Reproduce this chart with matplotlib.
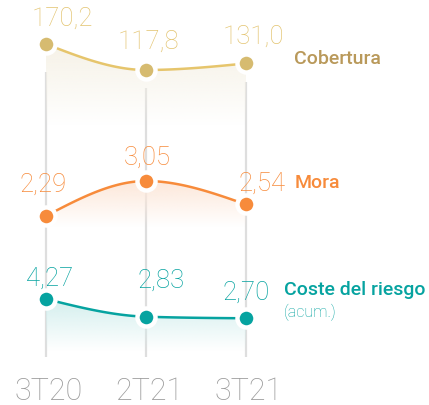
import matplotlib.pyplot as plt
import numpy as np
from matplotlib.colors import to_rgb

periodos = ['3T20', '2T21', '3T21']
cobertura = [170.2, 117.8, 131.0]
mora = [2.29, 3.05, 2.54]
coste = [4.27, 2.83, 2.70]

W, H = 429, 406
plt.rcParams['font.family'] = ['Roboto', 'DejaVu Sans']


def monotone_x(x, y, n=60):
    # curva monotona tipo d3.curveMonotoneX
    x = np.asarray(x, float)
    y = np.asarray(y, float)
    h = np.diff(x)
    s = np.diff(y) / h
    m = np.zeros(len(x))
    for k in range(1, len(x) - 1):
        p = (s[k - 1] * h[k] + s[k] * h[k - 1]) / (h[k - 1] + h[k])
        m[k] = (np.sign(s[k - 1]) + np.sign(s[k])) * min(abs(s[k - 1]), abs(s[k]), 0.5 * abs(p))
    m[0] = (3 * s[0] - m[1]) / 2
    m[-1] = (3 * s[-1] - m[-2]) / 2
    xs, ys = [], []
    for k in range(len(x) - 1):
        t = np.linspace(0, 1, n)
        h00 = 2 * t**3 - 3 * t**2 + 1
        h10 = t**3 - 2 * t**2 + t
        h01 = -2 * t**3 + 3 * t**2
        h11 = t**3 - t**2
        xs.append(x[k] + t * h[k])
        ys.append(h00 * y[k] + h10 * h[k] * m[k] + h01 * y[k + 1] + h11 * h[k] * m[k + 1])
    return np.concatenate(xs), np.concatenate(ys)


fig = plt.figure(figsize=(W / 100, H / 100), dpi=100)
fig.patch.set_facecolor('white')

xlim = (-0.46, 3.83)

# lineas verticales de fondo (en pixeles)
bg = fig.add_axes([0, 0, 1, 1])
bg.set_xlim(xlim)
bg.set_ylim(H, 0)
bg.axis('off')
grid_top = [73, 89, 83]
for i, top in enumerate(grid_top):
    bg.vlines(i, top, 358, color='#dedede', lw=1.6, zorder=0)

series = [
    dict(vals=cobertura, ylim=(-557.6, 260.9), base=5,
         line='#e6c56c', dot='#d6bb70', txt='#e3c470', fill='#f6f2e7',
         offs=[(16, 26), (2, 29), (7, 28)]),
    dict(vals=mora, ylim=(-1.82, 7.007), base=2.05,
         line='#f78b3b', dot='#f78b3b', txt='#f78b3b', fill='#fde8da',
         offs=[(-3, 32), (1, 24), (16, 22)]),
    dict(vals=coste, ylim=(-4.35, 28.66), base=0.05,
         line='#06a3a0', dot='#06a3a0', txt='#06a3a0', fill='#d4efee',
         offs=[(4, 21), (15, 37), (0, 27)]),
]

x = np.arange(len(periodos))
for sr in series:
    ax = fig.add_axes([0, 0, 1, 1])
    ax.set_xlim(xlim)
    ax.set_ylim(sr['ylim'])
    ax.axis('off')
    ax.patch.set_alpha(0)
    vals = sr['vals']
    cx, cy = monotone_x(x, vals)

    # relleno con degradado
    poly = ax.fill_between(cx, cy, sr['base'], color='none', lw=0)
    rgb = to_rgb(sr['fill'])
    grad = np.zeros((100, 1, 4))
    grad[:, 0, :3] = rgb
    grad[:, 0, 3] = np.linspace(1, 0.0, 100)
    img = ax.imshow(grad, aspect='auto', origin='upper', zorder=1)
    img.set_extent((x[0], x[-1], sr['base'], max(vals)))
    img.set_clip_path(poly.get_paths()[0], transform=ax.transData)

    ax.plot(cx, cy, color=sr['line'], lw=1.8, zorder=2, solid_capstyle='round')
    ax.plot(x, vals, 'o', ms=13, mfc=sr['dot'], mec='white', mew=3.2, zorder=3)

    for xi, v, (dx, dy) in zip(x, vals, sr['offs']):
        txt = f'{v:.2f}' if v < 10 else f'{v:.1f}'
        ax.annotate(txt.replace('.', ','), (xi, v), xytext=(dx, dy),
                    textcoords='offset pixels', ha='center', va='center',
                    fontsize=18.5, color=sr['txt'], fontweight='light', zorder=4)

# nombres de las series
fig.text(294 / W, 1 - 59 / H, 'Cobertura', fontsize=14, fontweight='medium',
         color='#b9995a', va='center', ha='left')
fig.text(295 / W, 1 - 183 / H, 'Mora', fontsize=14, fontweight='medium',
         color='#f78b3b', va='center', ha='left')
fig.text(284 / W, 1 - 290 / H, 'Coste del riesgo', fontsize=14, fontweight='medium',
         color='#06a3a0', va='center', ha='left')
fig.text(284 / W, 1 - 312 / H, '(acum.)', fontsize=11.5, fontweight='light',
         color='#06a3a0', va='center', ha='left')

# etiquetas del eje x
for xi, lab in zip(x, periodos):
    bg.text(xi + 0.03, 392, lab, ha='center', va='center', fontsize=22,
            fontweight='light', color='#9b9b9b')

fig.savefig('out.png', dpi=100)
